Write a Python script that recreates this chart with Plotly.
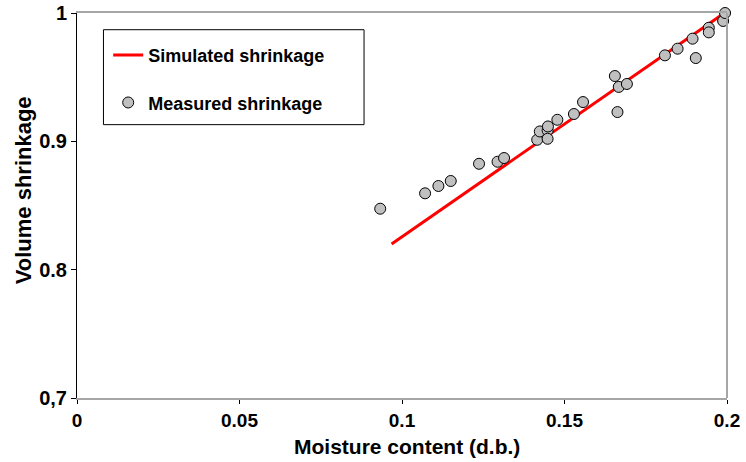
import plotly.graph_objects as go

# Measured data (moisture content d.b., volume shrinkage)
measured_x = [0.0933, 0.1071, 0.1112, 0.1150, 0.1237, 0.1294, 0.1314, 0.1416, 0.1424,
              0.1448, 0.1449, 0.1448, 0.1478, 0.1529, 0.1557, 0.1655, 0.1667, 0.1692,
              0.1663, 0.1809, 0.1848, 0.1894, 0.1904, 0.1944, 0.1944, 0.1988, 0.1994]
measured_y = [0.8475, 0.8595, 0.8652, 0.8691, 0.8825, 0.8841, 0.8870, 0.9012, 0.9077,
              0.9085, 0.9116, 0.9020, 0.9168, 0.9213, 0.9306, 0.9509, 0.9424, 0.9447,
              0.9228, 0.9670, 0.9722, 0.9800, 0.9649, 0.9885, 0.9849, 0.9938, 1.0000]

# Simulated shrinkage line
sim_x = [0.0968, 0.1992]
sim_y = [0.8200, 1.0000]

x_tickvals = [0, 0.05, 0.1, 0.15, 0.2]
x_ticktext = ["0", "0.05", "0.1", "0.15", "0.2"]
y_tickvals = [0.7, 0.8, 0.9, 1.0]
y_ticktext = ["0,7", "0.8", "0.9", "1"]

FONT = "Liberation Sans, Arial, sans-serif"

fig = go.Figure()
fig.add_trace(go.Scatter(
    x=sim_x, y=sim_y, mode="lines", name="<b>Simulated shrinkage</b>",
    line=dict(color="#ff0000", width=3), legendgroup="a", cliponaxis=False))
fig.add_trace(go.Scatter(
    x=measured_x, y=measured_y, mode="markers", name="<b>Measured shrinkage</b>",
    marker=dict(color="#c0c0c0", size=11, line=dict(color="#000000", width=1)),
    legendgroup="b", cliponaxis=False))

fig.update_layout(
    width=746, height=462,
    margin=dict(l=76.5, r=18.5, t=13.3, b=63.7),
    paper_bgcolor="white", plot_bgcolor="white",
    font=dict(family=FONT, color="black"),
    showlegend=True,
    legend=dict(x=0.048, y=0.938, xanchor="left", yanchor="top",
                bgcolor="rgba(0,0,0,0)", borderwidth=0,
                font=dict(size=18, family=FONT),
                tracegroupgap=21, itemwidth=30, traceorder="grouped"),
    xaxis=dict(range=[0, 0.2], tickvals=x_tickvals,
               ticktext=["<b>%s</b>" % t for t in x_ticktext],
               automargin=False,
               showgrid=False, zeroline=False, showline=True, linecolor="#a6a6a6",
               linewidth=2, mirror=True, ticks="outside", ticklen=4, tickcolor="black",
               tickfont=dict(size=19, family=FONT)),
    yaxis=dict(range=[0.7, 1.0], tickvals=y_tickvals,
               ticktext=["<b>%s</b>" % t for t in y_ticktext],
               automargin=False,
               showgrid=False, zeroline=False, showline=True, linecolor="black",
               linewidth=1, ticks="outside", ticklen=5, tickcolor="black",
               tickfont=dict(size=20, family=FONT)),
    annotations=[
        dict(text="<b>Moisture content (d.b.)</b>", xref="paper", yref="paper",
             x=(407 - 76.5) / 651, y=(398.3 - 447) / 385, xanchor="center",
             yanchor="middle", showarrow=False, font=dict(size=21, family=FONT)),
        dict(text="<b>Volume shrinkage</b>", xref="paper", yref="paper",
             x=(23 - 76.5) / 651, y=(398.3 - 191) / 385, xanchor="center",
             yanchor="middle", textangle=-90, showarrow=False,
             font=dict(size=22, family=FONT)),
    ],
    shapes=[
        dict(type="line", xref="paper", yref="paper", x0=1, x1=1, y0=0, y1=1,
             line=dict(color="#a6a6a6", width=2)),
        dict(type="rect", xref="paper", yref="paper", x0=0.0407, x1=0.4416,
             y0=0.71, y1=0.9566, line=dict(color="black", width=1),
             fillcolor="rgba(0,0,0,0)"),
    ],
)

fig.write_html("out.html")
